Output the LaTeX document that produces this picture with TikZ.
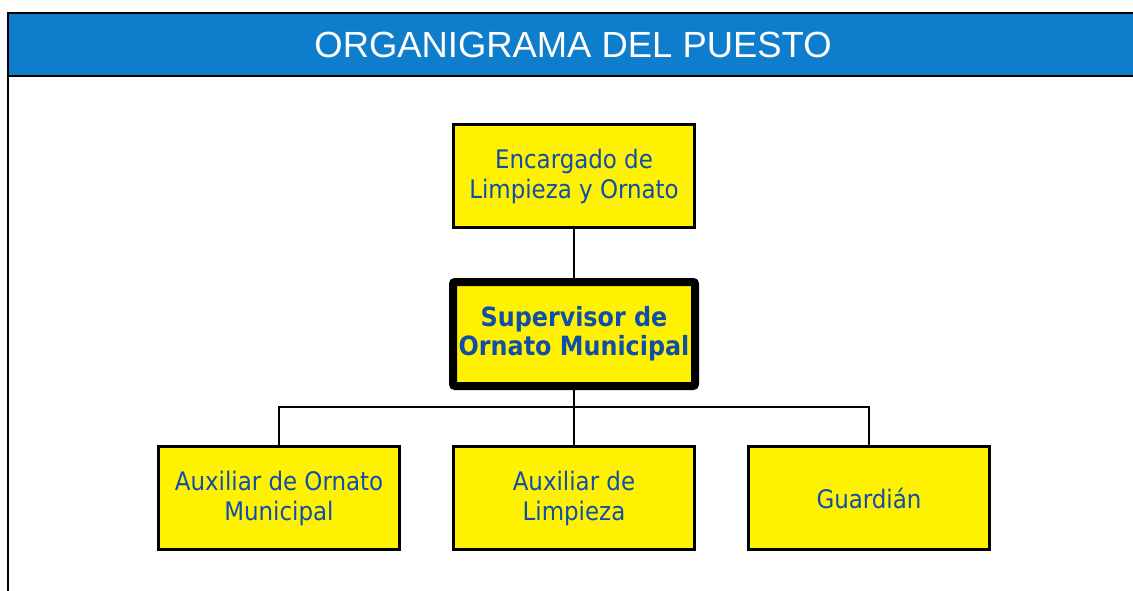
\documentclass[tikz,border=0pt]{standalone}
\usepackage{fontspec}
\setmainfont{DejaVu Sans Condensed}
\newfontfamily\titlefont{Liberation Sans}
\definecolor{headblue}{RGB}{14,125,203}
\definecolor{boxyellow}{RGB}{255,242,0}
\definecolor{textblue}{RGB}{16,78,168}

\begin{document}
\begin{tikzpicture}[x=1pt,y=-1pt,
    puesto/.style={draw,line width=2.5pt,fill=boxyellow,text=textblue,
      minimum width=241pt,minimum height=103pt,inner sep=0pt,align=center,
      font=\fontsize{25.5}{30}\selectfont},
    jefe/.style={puesto,line width=8pt,rounded corners=2pt,minimum width=242pt,
      minimum height=104pt,font=\fontsize{26.5}{29}\selectfont\bfseries},
    linea/.style={line width=2pt}]
      \useasboundingbox (0,0) rectangle (1133,591);

      % header band
      \fill [headblue] (8,13) rectangle (1133,76.5);
      \draw [line width=2pt] (8,591) -- (8,13) -- (1133,13);
      \draw [line width=2pt] (8,76.5) -- (1133,76.5);
      \node [text=white,font=\fontsize{36.4}{40}\titlefont] (titulo) at (573,45) {ORGANIGRAMA DEL PUESTO};

      % boxes
      \node [puesto] (enc) at (574,176) {Encargado de\\Limpieza y Ornato};
      \node [jefe] (sup) at (574,334) {Supervisor de\\Ornato Municipal};
      \node [puesto] (aux) at (279,498) {Auxiliar de Ornato\\Municipal};
      \node [puesto] (lim) at (574,498) {Auxiliar de\\Limpieza};
      \node [puesto] (gua) at (869,498) {Guardián};

      % connectors
      \coordinate (barra) at (574,407);
      \draw [linea] (enc.south) -- (sup.north);
      \draw [linea] (sup.south) -- (lim.north);
      \draw [linea] (aux.north) |- (barra) -| (gua.north);
\end{tikzpicture}
\end{document}
